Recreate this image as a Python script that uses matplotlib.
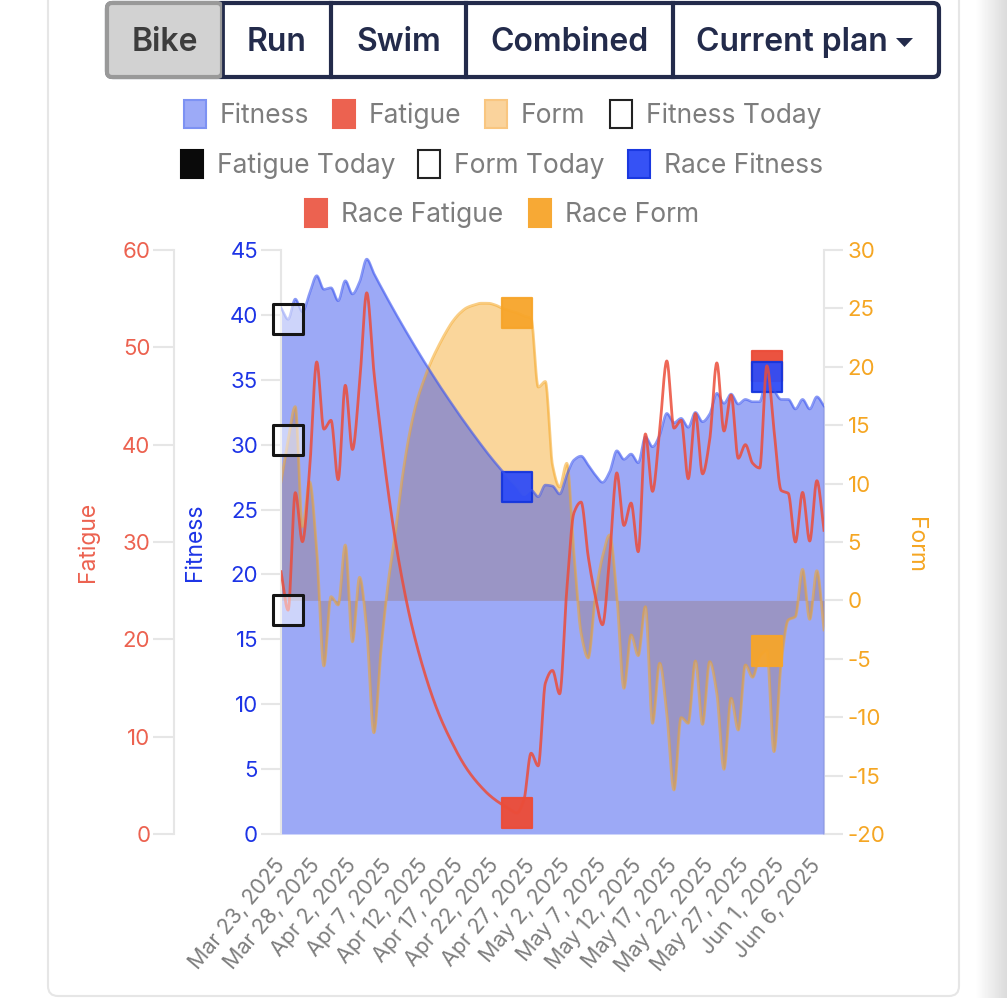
import matplotlib.pyplot as plt
import numpy as np
import pandas as pd
from matplotlib.patches import FancyBboxPatch, Rectangle


plt.rcParams["font.family"] = ["Inter", "DejaVu Sans"]
plt.rcParams["axes.unicode_minus"] = False

DATES = pd.date_range("2025-03-23", "2025-06-07", freq="D")

FITNESS = [
    40.55, 39.66, 41.22, 40.24, 41.66, 43.02, 41.97, 42.09, 41.09, 42.63, 41.61, 42.55, 44.30,
    43.20, 42.16, 41.15, 40.16, 39.20, 38.26, 37.34, 36.44, 35.57, 34.71, 33.88, 33.07, 32.27,
    31.50, 30.74, 30.00, 29.28, 28.60, 27.95, 27.33, 26.76, 26.12, 26.50, 25.99, 26.89, 26.81,
    26.20, 27.66, 28.82, 29.12, 28.43, 27.66, 27.10, 27.91, 29.53, 28.87, 29.28, 28.61, 30.61,
    29.84, 30.74, 32.41, 31.69, 32.03, 31.34, 32.49, 31.77, 32.36, 33.96, 33.19, 33.90, 33.13,
    33.49, 33.31, 33.31, 35.24, 34.21, 33.49, 33.49, 32.75, 33.49, 32.75, 33.69, 32.98,
]
FATIGUE = [
    26.95, 23.0, 35.07, 30.03, 37.4, 48.5, 41.6, 42.5, 36.4, 46.1, 39.5, 46.3, 55.6,
    47.5, 41.0, 35.2, 30.2, 26.0, 22.4, 19.4, 16.8, 14.5, 12.5, 10.8, 9.3, 7.9,
    6.7, 5.7, 4.85, 4.1, 3.5, 3.0, 2.55, 2.16, 3.5, 8.3, 7.0, 15.5, 16.8,
    14.4, 25.1, 33.0, 34.1, 28.5, 24.4, 21.5, 28.5, 37.1, 31.7, 34.0, 29.0, 41.1,
    35.2, 41.5, 48.6, 41.7, 42.5, 36.5, 43.2, 37.0, 40.5, 48.4, 41.4, 45.1, 38.6,
    40.0, 38.1, 37.6, 48.1, 41.5, 35.3, 35.0, 30.0, 35.1, 30.1, 36.3, 31.2,
]
FORM = [
    10.16, 13.73, 16.59, 6.31, 10.16, 4.32, -5.62, 0.32, -0.39, 4.74, -3.54, 1.98, -2.53,
    -11.33, -4.25, 1.49, 5.77, 10.59, 14.31, 17.01, 18.87, 20.44, 21.72, 22.87, 23.86, 24.58,
    25.06, 25.29, 25.44, 25.44, 25.29, 25.01, 24.8, 24.63, 24.35, 24.15, 18.27, 18.74, 11.59,
    9.71, 11.74, 4.06, -2.79, -4.93, 0.32, 3.74, 5.6, 0.46, -7.53, -2.96, -4.73, -0.54,
    -10.52, -5.38, -9.67, -16.23, -10.04, -10.52, -5.19, -10.61, -5.25, -7.95, -14.46, -8.38, -11.1,
    -5.53, -6.58, -4.82, -4.3, -12.95, -5.38, -1.68, -1.39, 2.66, -1.62, 2.54, -2.53,
]
TODAY_INDEX = 1
RACE_INDICES = [33, 68]

FITNESS_TICKS = [0, 5, 10, 15, 20, 25, 30, 35, 40, 45]
FATIGUE_TICKS = [0, 10, 20, 30, 40, 50, 60]
FORM_TICKS = [-20, -15, -10, -5, 0, 5, 10, 15, 20, 25, 30]

BUTTONS = ["Bike", "Run", "Swim", "Combined", "Current plan"]
LEGEND_LABELS = [
    "Fitness", "Fatigue", "Form", "Fitness Today", "Fatigue Today",
    "Form Today", "Race Fitness", "Race Fatigue", "Race Form",
]

BLUE = "#3b55ef"
RED = "#eb4d3a"
ORANGE = "#f5a623"
GRID = "#e6e6e6"
NAVY = "#232b4b"
GRAY_TEXT = "#7d7d7d"


def smooth_curve(values: list[float], samples: int = 20) -> tuple[np.ndarray, np.ndarray]:
    y = np.asarray(values)
    delta = np.diff(y)
    slopes = np.zeros(len(y))
    slopes[0], slopes[-1] = delta[0], delta[-1]
    same_sign = delta[:-1] * delta[1:] > 0
    slopes[1:-1][same_sign] = (
        2 * delta[:-1][same_sign] * delta[1:][same_sign] / (delta[:-1][same_sign] + delta[1:][same_sign])
    )
    position = np.linspace(0, len(y) - 1, (len(y) - 1) * samples + 1)
    left = np.minimum(position.astype(int), len(y) - 2)
    t = position - left
    curve = (
        (2 * t**3 - 3 * t**2 + 1) * y[left]
        + (t**3 - 2 * t**2 + t) * slopes[left]
        + (-2 * t**3 + 3 * t**2) * y[left + 1]
        + (t**3 - t**2) * slopes[left + 1]
    )
    days = DATES[0] + pd.to_timedelta(position, unit="D")
    return days, curve


def draw_page() -> None:
    plt.axes([0, 0, 1, 1], zorder=0)
    shade = np.linspace(1, 0.86, 32)[None, :]
    plt.imshow(shade, extent=(975, 1007, 998, 0), cmap="gray", vmin=0, vmax=1, aspect="auto")
    plt.xlim(0, 1007)
    plt.ylim(998, 0)
    plt.axis("off")
    ax = plt.gca()
    ax.add_patch(FancyBboxPatch((48, -30), 911, 1026, boxstyle="round,pad=0,rounding_size=10", fc="white", ec=GRID, lw=1.5))


def draw_buttons() -> None:
    ax = plt.gca()
    ax.add_patch(FancyBboxPatch((107, 3), 832, 74, boxstyle="round,pad=0,rounding_size=6", fc="white", ec=NAVY, lw=3))
    ax.add_patch(FancyBboxPatch((107, 3), 115, 74, boxstyle="round,pad=0,rounding_size=5", fc="#d2d2d2", ec="#999999", lw=3))
    for edge in [331, 466, 673]:
        plt.plot([edge, edge], [3, 77], color=NAVY, lw=3)
    plt.plot([223, 223], [3, 77], color=NAVY, lw=2)
    centers = [165, 277, 399, 569, 792]
    for label, center in zip(BUTTONS, centers):
        color = "#3d3d3d" if label == "Bike" else NAVY
        plt.text(center, 42, label, color=color, fontsize=23, fontweight="semibold", ha="center", va="center")
    plt.fill([896, 913, 904.5], [38, 38, 47], color=NAVY, lw=0)


def draw_legend() -> None:
    ax = plt.gca()
    swatches = [
        (183, 114, "#9caaf7", "#7d92f3"), (332, 114, "#ec6250", "#ec6250"), (484, 114, "#fad39c", "#f9c680"),
        (609, 114, "white", "#222222"), (180, 164, "#0a0a0a", "#0a0a0a"), (417, 164, "white", "#222222"),
        (627, 164, "#3652f5", "#1a38e0"), (304, 213, "#ec6250", "#ec6250"), (528, 213, "#f7a935", "#f7a935"),
    ]
    for label, (left, y, face, edge) in zip(LEGEND_LABELS, swatches):
        ax.add_patch(Rectangle((left + 1, y - 14), 22, 28, fc=face, ec=edge, lw=1.5))
        plt.text(left + 37, y + 2, label, color=GRAY_TEXT, fontsize=19, ha="left", va="center")


def draw_chart() -> None:
    box = [281 / 1007, (998 - 834) / 998, 543 / 1007, 584 / 998]

    fatigue_axis = plt.axes(box, facecolor="none", zorder=1)
    plt.xlim(DATES[0], DATES[-1])
    plt.ylim(0, 60)
    plt.yticks(FATIGUE_TICKS)
    plt.xticks([])
    plt.ylabel("Fatigue", color="#ec6250", fontsize=16.5)
    fatigue_axis.yaxis.set_label_coords(-0.335, 0.5)
    fatigue_axis.tick_params(axis="y", length=15, width=1.5, color=GRID, labelcolor="#ec6250", labelsize=16, pad=2)
    for side in ["top", "right", "bottom"]:
        fatigue_axis.spines[side].set_visible(False)
    fatigue_axis.spines["left"].set_position(("outward", 77))
    fatigue_axis.spines["left"].set_color(GRID)
    fatigue_axis.spines["left"].set_linewidth(1.5)

    form_axis = plt.axes(box, facecolor="none", zorder=1)
    plt.xlim(DATES[0], DATES[-1])
    plt.ylim(-20, 30)
    plt.yticks(FORM_TICKS)
    plt.xticks([])
    plt.ylabel("Form", color=ORANGE, fontsize=16.5, rotation=270, va="center")
    form_axis.yaxis.tick_right()
    form_axis.yaxis.set_label_position("right")
    form_axis.yaxis.set_label_coords(1.188, 0.495)
    form_axis.tick_params(axis="y", length=14, width=1.5, color=GRID, labelcolor=ORANGE, labelsize=16, pad=3)
    for side in ["top", "left", "bottom"]:
        form_axis.spines[side].set_visible(False)
    form_axis.spines["right"].set_color(GRID)
    form_axis.spines["right"].set_linewidth(1.5)

    fitness_axis = plt.axes(box, facecolor="none", zorder=2)
    days, form_curve = smooth_curve(FORM)
    _, fitness_curve = smooth_curve(FITNESS)
    _, fatigue_curve = smooth_curve(FATIGUE)

    plt.fill_between(days, form_curve, 0, color=ORANGE, alpha=0.45, lw=0, transform=form_axis.transData, zorder=1)
    plt.fill_between(days, fitness_curve, 0, color=BLUE, alpha=0.5, lw=0, zorder=2)
    plt.plot(days, form_curve, color=ORANGE, alpha=0.55, lw=2, transform=form_axis.transData, zorder=2.1)

    race_days = DATES[RACE_INDICES]
    square = {"s": 490, "marker": "s", "clip_on": False, "linewidths": 1.6}
    plt.scatter(
        race_days, [FATIGUE[i] for i in RACE_INDICES], color=RED, alpha=0.97,
        transform=fatigue_axis.transData, zorder=3, **square,
    )
    plt.scatter(
        race_days, [FORM[i] for i in RACE_INDICES], color="#f7a52a", alpha=0.95,
        transform=form_axis.transData, zorder=3.1, **square,
    )
    plt.scatter(
        race_days, [FITNESS[i] for i in RACE_INDICES], facecolor="#2f4cf6", edgecolor="#1535dd", alpha=0.95,
        zorder=3.2, **square,
    )

    plt.plot(days, fitness_curve, color=BLUE, alpha=0.6, lw=1.8, zorder=4)
    plt.plot(days, fatigue_curve, color=RED, alpha=0.85, lw=2, transform=fatigue_axis.transData, zorder=4.1)

    today = DATES[TODAY_INDEX]
    today_style = {"s": 490, "marker": "s", "clip_on": False, "linewidths": 2.2}
    for value, transform in [
        (FITNESS[TODAY_INDEX], fitness_axis.transData),
        (FATIGUE[TODAY_INDEX], fatigue_axis.transData),
        (FORM[TODAY_INDEX], form_axis.transData),
    ]:
        plt.scatter(
            [today], [value], facecolor=(1, 1, 1, 0.5), edgecolor="#151515",
            transform=transform, zorder=5, **today_style,
        )

    plt.xlim(DATES[0], DATES[-1])
    plt.ylim(0, 45)
    plt.yticks(FITNESS_TICKS)
    ticks = DATES[::5]
    plt.xticks(
        ticks,
        [f"{day:%b} {day.day}, {day.year}" for day in ticks],
        rotation=50,
        ha="right",
        va="center",
        rotation_mode="anchor",
        color=GRAY_TEXT,
        fontsize=15.5,
    )
    plt.ylabel("Fitness", color="#1d34e6", fontsize=16.5)
    fitness_axis.yaxis.set_label_coords(-0.138, 0.5)
    fitness_axis.tick_params(axis="x", length=0, pad=20)
    fitness_axis.tick_params(axis="y", length=14.5, width=1.5, color=GRID, labelcolor="#1d34e6", labelsize=16, pad=2)
    for side in ["top", "right", "bottom"]:
        fitness_axis.spines[side].set_visible(False)
    fitness_axis.spines["left"].set_color(GRID)
    fitness_axis.spines["left"].set_linewidth(1.5)


plt.figure(figsize=(10.07, 9.98), dpi=100)
draw_page()
draw_buttons()
draw_legend()
draw_chart()
plt.savefig("out.png", dpi=100)
